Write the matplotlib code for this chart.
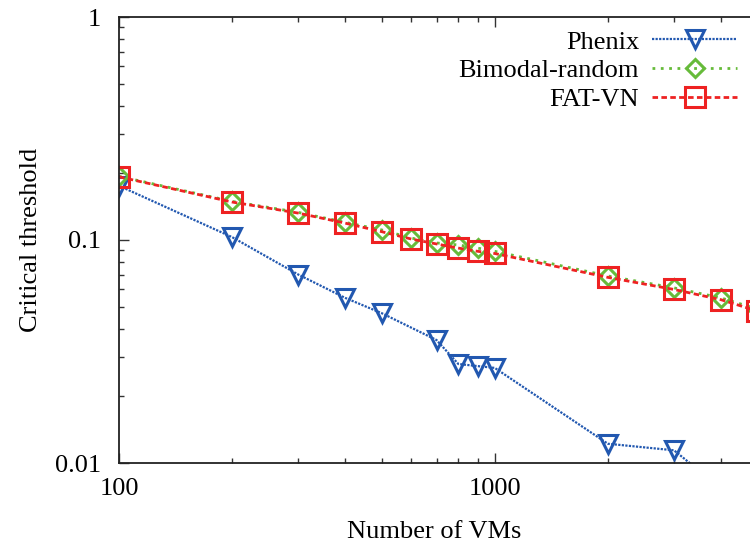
import matplotlib
matplotlib.use("Agg")
import matplotlib.pyplot as plt
from matplotlib.ticker import LogLocator, NullFormatter, FixedLocator, FixedFormatter

plt.rcParams['font.family'] = ['Liberation Serif', 'DejaVu Serif']

vms = [100, 200, 300, 400, 500, 600, 700, 800, 900, 1000, 2000, 3000, 4000, 5000]
vms_phenix = [100, 200, 300, 400, 500, 700, 800, 900, 1000, 2000, 3000, 4000, 5000]
phenix = [0.175, 0.103, 0.070, 0.055, 0.047, 0.0356, 0.0278, 0.0272, 0.0267,
          0.0122, 0.0114, 0.0077, 0.006]
bimodal = [0.193, 0.149, 0.133, 0.120, 0.111, 0.102, 0.097, 0.095, 0.092, 0.089,
           0.069, 0.061, 0.055, 0.049]
fatvn = [0.192, 0.148, 0.132, 0.119, 0.109, 0.101, 0.096, 0.092, 0.089, 0.087,
         0.068, 0.060, 0.054, 0.048]

fig = plt.figure(figsize=(7.5, 5.46), dpi=100)
ax = fig.add_axes([119/750, 83/546, 631/750, 446/546])

ax.plot(vms_phenix, phenix, color='#2258b0', linestyle=(0, (1, 0.6)), lw=1.6,
        marker='v', markersize=13, markerfacecolor='none', markeredgewidth=2.2,
        label='Phenix')
ax.plot(vms, bimodal, color='#66bb3a', linestyle=(0, (1, 2)), lw=2,
        marker='D', markersize=9, markerfacecolor='none', markeredgewidth=2.2,
        label='Bimodal-random')
ax.plot(vms, fatvn, color='#ee2222', linestyle=(0, (2, 1.2)), lw=2,
        marker='s', markersize=14, markerfacecolor='none', markeredgewidth=2.2,
        label='FAT-VN')

ax.set_xscale('log')
ax.set_yscale('log')
ax.set_xlim(100, 4780)
ax.set_ylim(0.01, 1)

ax.xaxis.set_major_locator(FixedLocator([100, 1000]))
ax.xaxis.set_major_formatter(FixedFormatter(['100', '1000']))
ax.xaxis.set_minor_locator(LogLocator(base=10, subs=range(2, 10)))
ax.xaxis.set_minor_formatter(NullFormatter())
ax.yaxis.set_major_locator(FixedLocator([0.01, 0.1, 1]))
ax.yaxis.set_major_formatter(FixedFormatter(['0.01', '0.1', '1']))
ax.yaxis.set_minor_locator(LogLocator(base=10, subs=range(2, 10)))
ax.yaxis.set_minor_formatter(NullFormatter())

ax.tick_params(which='both', direction='in', top=True, right=False,
               labelsize=19, width=1, color='#333333')
ax.tick_params(axis='y', pad=13)
ax.tick_params(axis='x', pad=11)
ax.tick_params(which='major', length=7)
ax.tick_params(which='minor', length=3.5)
ax.spines['right'].set_visible(False)
for s in ['left', 'top', 'bottom']:
    ax.spines[s].set_linewidth(1.3)
    ax.spines[s].set_color('#222222')

ax.set_xlabel('Number of VMs', fontsize=19, labelpad=15)
ax.set_ylabel('Critical threshold', fontsize=19, labelpad=9)

ax.legend(loc='upper right', bbox_to_anchor=(1.0, 1.0), frameon=False,
          markerfirst=False, fontsize=19, handlelength=3.2, labelspacing=0.2,
          handletextpad=0.5, borderaxespad=0.1)

fig.savefig('out.png', dpi=100)
